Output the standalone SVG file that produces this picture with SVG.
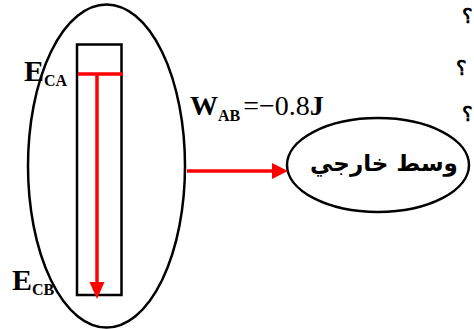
<svg xmlns="http://www.w3.org/2000/svg" width="474" height="329" viewBox="0 0 474 329">
<style>
.ln{fill:none;stroke:#000;stroke-width:2.5}
.red{stroke:#ff0000;stroke-width:3.5;fill:none}
.serif{font-family:"Liberation Serif","Times New Roman",serif}
.q{font-family:"Liberation Serif","DejaVu Serif",serif;font-size:20px;font-weight:bold}
</style>
<rect width="474" height="329" fill="#fff"/>
<g id="system">
<ellipse class="ln" cx="106.5" cy="166" rx="78.5" ry="161.5"/>
<rect class="ln" x="77" y="44.5" width="44.5" height="250.5"/>
</g>
<g id="labels">
<text class="serif" x="24" y="81" font-size="30" font-weight="bold">E<tspan font-size="16" dy="5">CA</tspan></text>
<text class="serif" x="12" y="290" font-size="30" font-weight="bold">E<tspan font-size="16" dy="5">CB</tspan></text>
<text class="serif" x="190" y="115" font-size="28"><tspan font-weight="bold">W</tspan><tspan font-size="16" font-weight="bold" dy="6">AB</tspan><tspan dy="-6" dx="3">=−0.8</tspan><tspan font-weight="bold">J</tspan></text>
</g>
<g id="medium">
<ellipse class="ln" cx="378" cy="165" rx="91" ry="47"/>
<text x="384" y="171" text-anchor="middle" font-family="'DejaVu Sans','Noto Sans',sans-serif" font-size="23" font-weight="bold" direction="rtl">وسط خارجي</text>
</g>
<g id="connectors">
<line class="red" x1="78" y1="74" x2="123" y2="74"/>
<line class="red" x1="97" y1="74" x2="97" y2="284"/>
<path d="M89.5,282 L104.5,282 L97,299 Z" fill="#ff0000"/>
<line class="red" x1="187" y1="171" x2="274" y2="171"/>
<path d="M272,163 L288,171 L272,179 Z" fill="#ff0000"/>
</g>
<g id="questions">
<text class="q" x="462" y="23">؟</text>
<text class="q" x="456" y="75">؟</text>
<text class="q" x="462" y="121">؟</text>
</g>
</svg>
